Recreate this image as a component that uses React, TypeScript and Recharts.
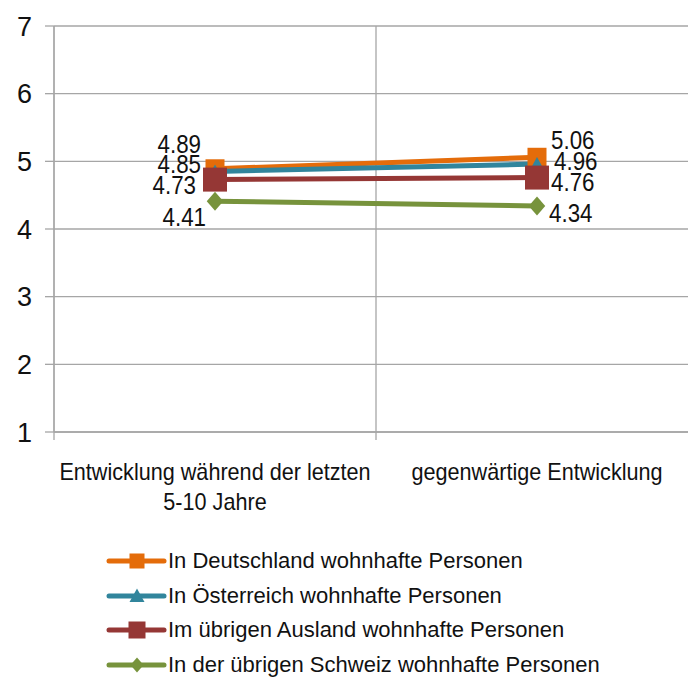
import React from 'react';
import { LineChart, Line, XAxis, YAxis, CartesianGrid, LabelList, Legend } from 'recharts';

const categoryLines = [['Entwicklung während der letzten', '5-10 Jahre'], ['gegenwärtige Entwicklung']];
const categoryPos = [0.5, 1.5];
const boundaryTicks = [0, 1, 2];
const deutschland = [4.89, 5.06];
const oesterreich = [4.85, 4.96];
const uebrigesAusland = [4.73, 4.76];
const uebrigeSchweiz = [4.41, 4.34];
const yTicks = [1, 2, 3, 4, 5, 6, 7];
const seriesNames = [
  'In Deutschland wohnhafte Personen',
  'In Österreich wohnhafte Personen',
  'Im übrigen Ausland wohnhafte Personen',
  'In der übrigen Schweiz wohnhafte Personen',
];

const data = categoryPos.map((x, i) => ({
  x,
  de: deutschland[i],
  at: oesterreich[i],
  ausland: uebrigesAusland[i],
  ch: uebrigeSchweiz[i],
}));

const GRID = '#a6a6a6';
const FONT = "'Liberation Sans', Arial, sans-serif";

type Shape = 'square' | 'triangle' | 'diamond';
const seriesStyle = [
  { key: 'de', values: deutschland, color: '#E46C0A', shape: 'square' as Shape, size: 19, legendSize: 15,
    labels: [{ anchor: 'end', dx: -14, dy: -25 }, { anchor: 'start', dx: 14, dy: -17 }] },
  { key: 'at', values: oesterreich, color: '#31859C', shape: 'triangle' as Shape, size: 14, legendSize: 15,
    labels: [{ anchor: 'end', dx: -14, dy: -8 }, { anchor: 'start', dx: 17, dy: -3 }] },
  { key: 'ausland', values: uebrigesAusland, color: '#953735', shape: 'square' as Shape, size: 24, legendSize: 17,
    labels: [{ anchor: 'end', dx: -19, dy: 5 }, { anchor: 'start', dx: 14, dy: 4 }] },
  { key: 'ch', values: uebrigeSchweiz, color: '#77933C', shape: 'diamond' as Shape, size: 19, legendSize: 15,
    labels: [{ anchor: 'end', dx: -9, dy: 16 }, { anchor: 'start', dx: 12, dy: 7 }] },
];

const LABEL_SCALE_X = 0.86;
const CAT_SCALE_X = 0.94;

function Marker({ cx, cy, shape, size, color }: { cx: number; cy: number; shape: Shape; size: number; color: string }) {
  const h = size / 2;
  if (shape === 'square') return <rect x={cx - h} y={cy - h} width={size} height={size} fill={color} />;
  if (shape === 'triangle')
    return <polygon points={`${cx},${cy - h} ${cx + h},${cy + h * 0.8} ${cx - h},${cy + h * 0.8}`} fill={color} />;
  const w = h * 0.87;
  return <polygon points={`${cx},${cy - h} ${cx + w},${cy} ${cx},${cy + h} ${cx - w},${cy}`} fill={color} />;
}

function makeDot(s: typeof seriesStyle[number]) {
  return (props: any) => {
    const { cx, cy, index } = props;
    if (cx == null || cy == null) return <g key={index} />;
    return <Marker key={index} cx={cx} cy={cy} shape={s.shape} size={s.size} color={s.color} />;
  };
}

function makeLabel(s: typeof seriesStyle[number]) {
  return (props: any) => {
    const x = props.x ?? props.viewBox?.x;
    const y = props.y ?? props.viewBox?.y;
    let idx = props.index;
    if (idx == null) idx = s.values.indexOf(props.value);
    const cfg = s.labels[idx] || s.labels[0];
    return (
      <text
        transform={`translate(${x + cfg.dx},${y + cfg.dy}) scale(${LABEL_SCALE_X},1)`}
        x={0}
        y={0}
        textAnchor={cfg.anchor}
        dominantBaseline="central"
        fontFamily={FONT}
        fontSize={26}
        fill="#111"
      >
        {Number(props.value).toFixed(2)}
      </text>
    );
  };
}

const CategoryTick = (props: any) => {
  const { x, y, index } = props;
  const lines = categoryLines[index] || [];
  return (
    <text
      transform={`translate(${x},${y + 32}) scale(${CAT_SCALE_X},1)`}
      x={0}
      y={0}
      textAnchor="middle"
      fontFamily={FONT}
      fontSize={23}
      fill="#111"
    >
      {lines.map((l, i) => (
        <tspan key={i} x={0} dy={i === 0 ? 0 : 30}>
          {l}
        </tspan>
      ))}
    </text>
  );
};

const LegendContent = () => (
  <div style={{ fontFamily: FONT, fontSize: 22, color: '#111' }}>
    {seriesStyle.map((s, i) => (
      <div key={s.key} style={{ display: 'flex', alignItems: 'center', height: 34.5 }}>
        <svg width={62} height={30} style={{ display: 'block' }}>
          <line x1={4} y1={15} x2={59} y2={15} stroke={s.color} strokeWidth={5} strokeLinecap="round" />
          <Marker cx={32} cy={15} shape={s.shape} size={s.legendSize} color={s.color} />
        </svg>
        <span style={{ marginLeft: 1, whiteSpace: 'nowrap' }}>{seriesNames[i]}</span>
      </div>
    ))}
  </div>
);

export default function App() {
  return (
    <div style={{ position: 'absolute', left: 0, top: 0, width: 688, height: 678, overflow: 'hidden', background: '#fff' }}>
      <LineChart width={710} height={678} data={data} margin={{ top: 26, right: 12, bottom: 168, left: 0 }}>
        <CartesianGrid xAxisId="b" stroke={GRID} strokeWidth={1.3} />
        <XAxis
          xAxisId="b"
          type="number"
          dataKey="x"
          domain={[0, 2]}
          ticks={boundaryTicks}
          height={8}
          tickSize={8}
          tick={(p: any) => <g key={p.index} />}
          axisLine={{ stroke: GRID, strokeWidth: 1.3 }}
          tickLine={{ stroke: GRID, strokeWidth: 1.3 }}
          interval={0}
        />
        <XAxis
          xAxisId="c"
          type="number"
          dataKey="x"
          domain={[0, 2]}
          ticks={categoryPos}
          height={70}
          axisLine={false}
          tickLine={false}
          tick={CategoryTick}
          interval={0}
        />
        <YAxis
          type="number"
          domain={[1, 7]}
          ticks={yTicks}
          width={54}
          tickSize={9}
          tickMargin={13}
          interval={0}
          axisLine={{ stroke: GRID, strokeWidth: 1.3 }}
          tickLine={{ stroke: GRID, strokeWidth: 1.3 }}
          tick={{ fontFamily: FONT, fontSize: 27, fill: '#111' }}
        />
        <Legend
          layout="vertical"
          align="center"
          verticalAlign="middle"
          content={<LegendContent />}
          wrapperStyle={{ top: 544, left: 105, width: 580, height: 138 }}
        />
        {seriesStyle.map((s, i) => (
          <Line
            key={s.key}
            xAxisId="b"
            dataKey={s.key}
            name={seriesNames[i]}
            stroke={s.color}
            strokeWidth={5}
            dot={makeDot(s)}
            activeDot={false}
            isAnimationActive={false}
          >
            <LabelList dataKey={s.key} content={makeLabel(s)} />
          </Line>
        ))}
      </LineChart>
    </div>
  );
}
